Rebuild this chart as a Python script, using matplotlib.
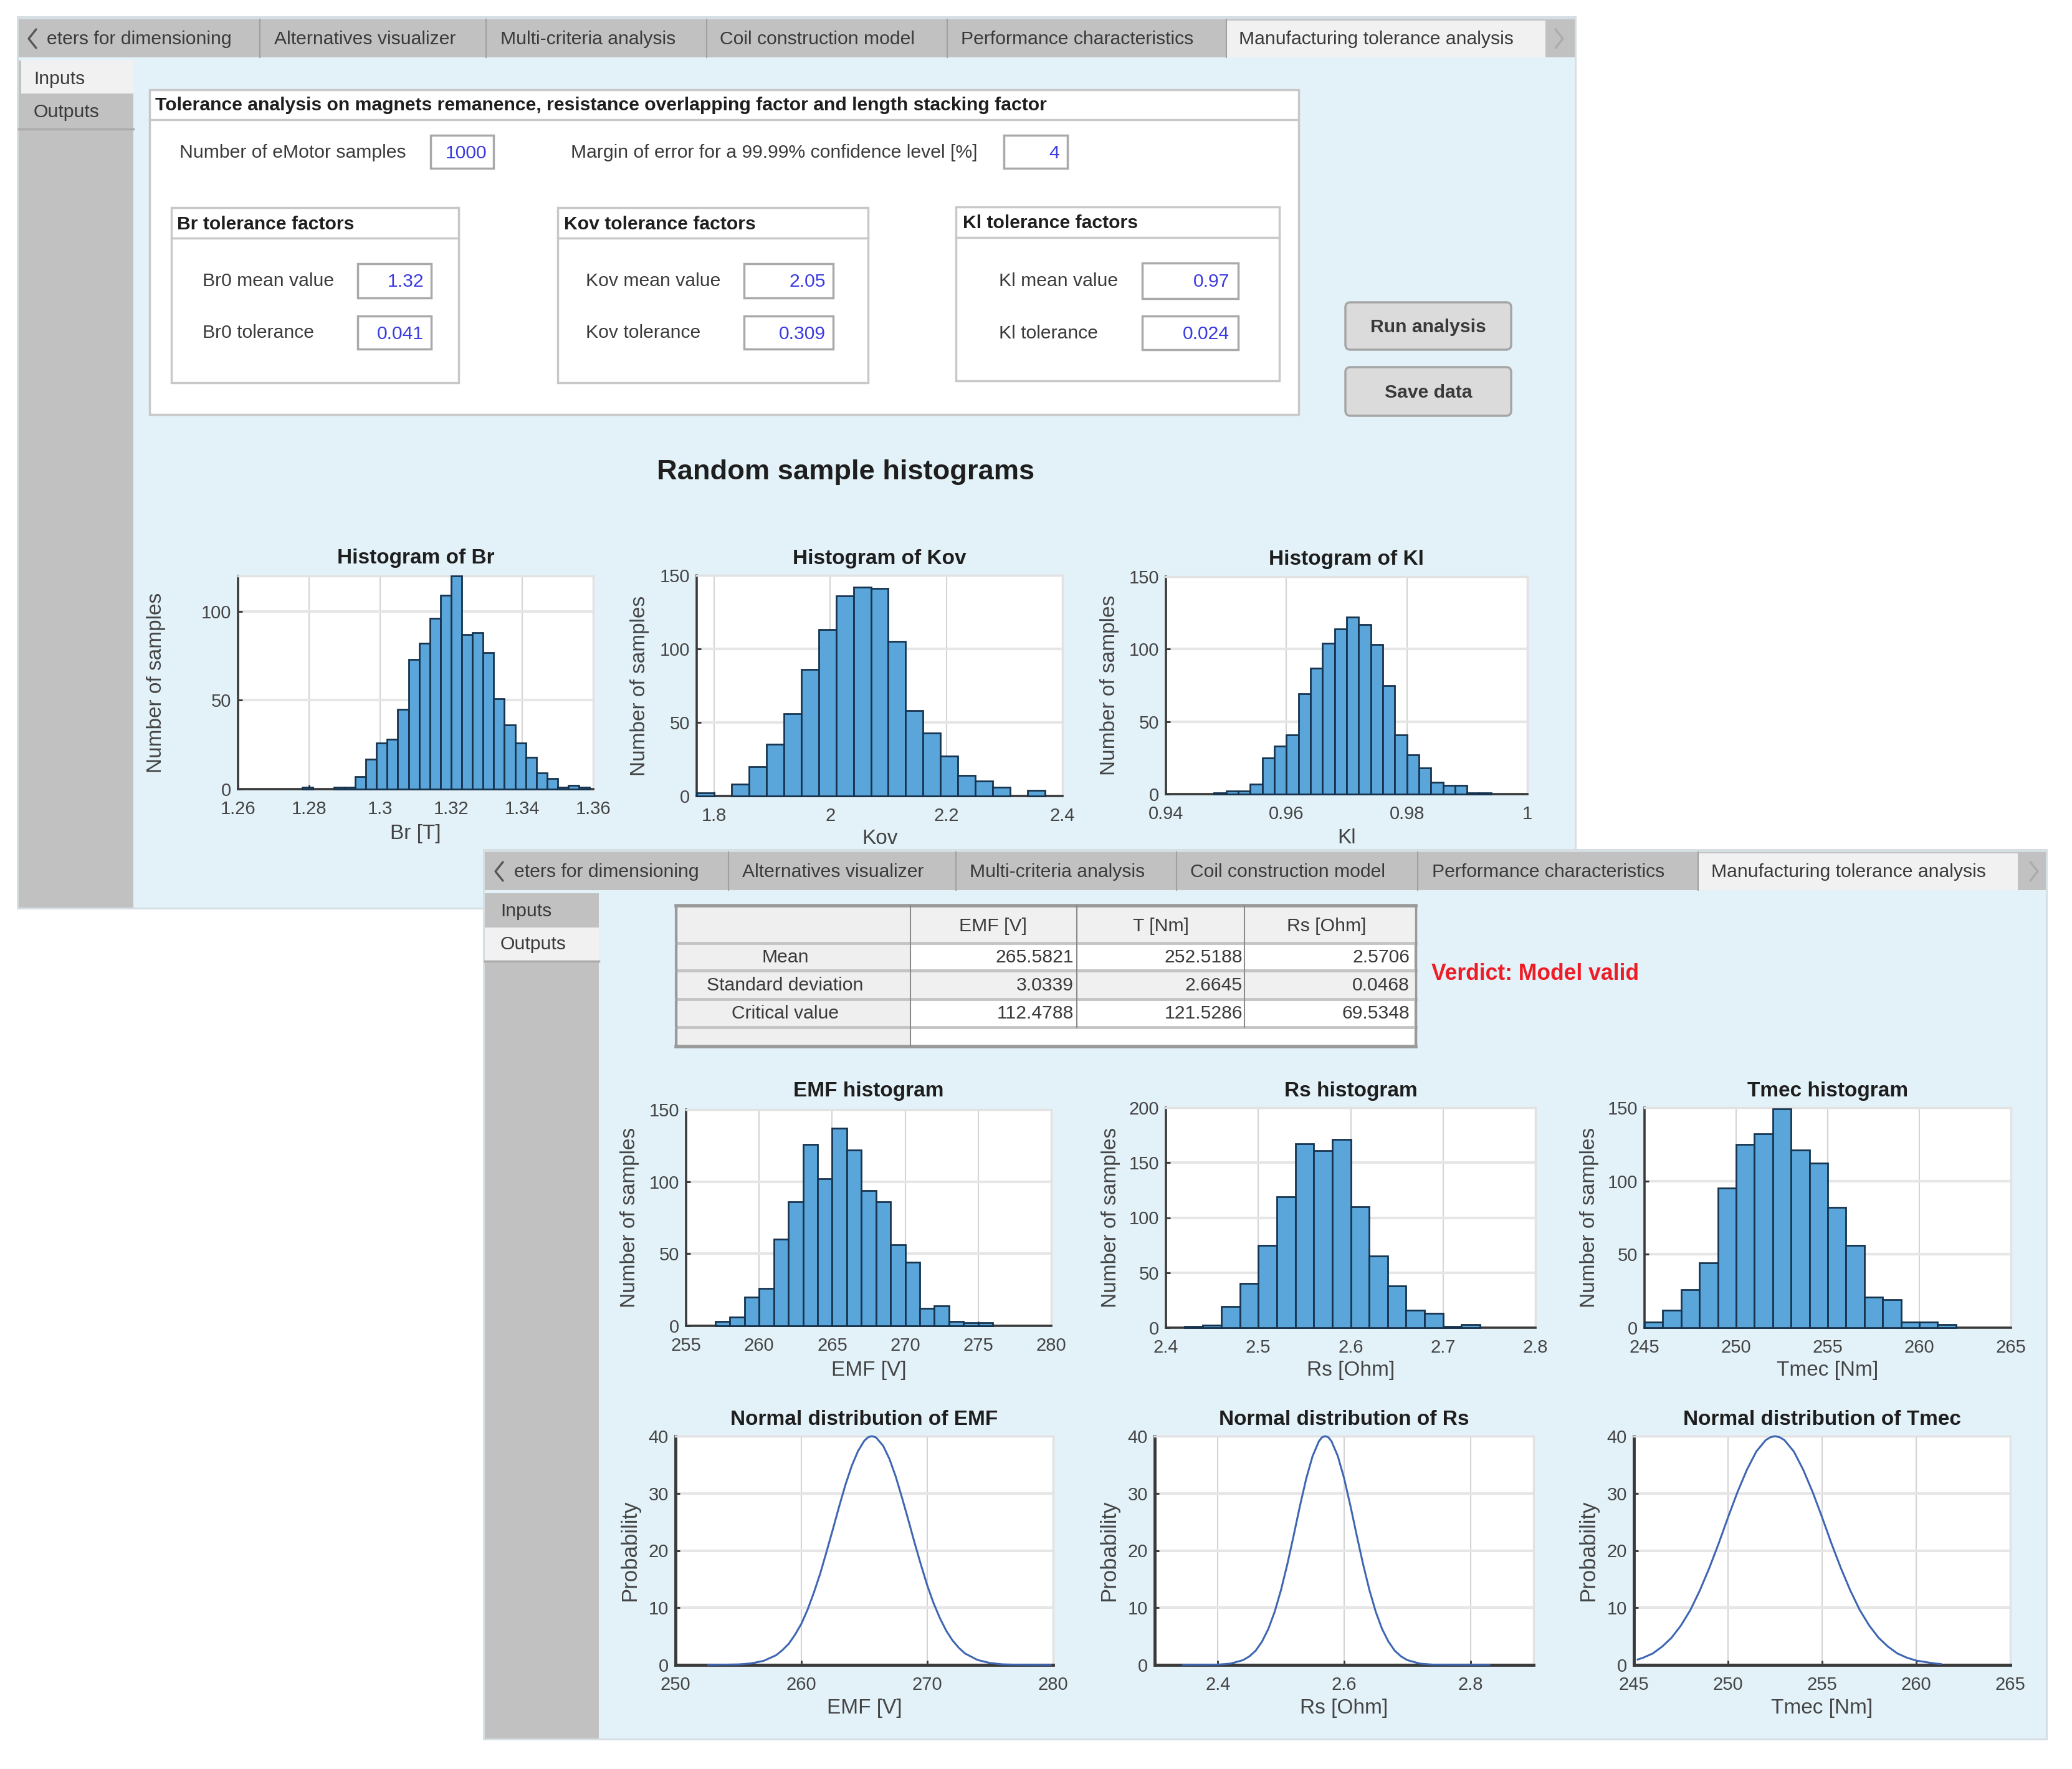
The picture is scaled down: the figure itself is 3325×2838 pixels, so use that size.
#!/usr/bin/env python3
# -*- coding: utf-8 -*-
import matplotlib
matplotlib.use("Agg")
import matplotlib.pyplot as plt
from matplotlib.patches import Rectangle, FancyBboxPatch

plt.rcParams['font.family'] = ['Liberation Sans', 'DejaVu Sans']

W, H = 3325, 2838

""" DATA """

# Input histograms (left bin edges and counts)
br_left = [1.278, 1.287, 1.290, 1.293, 1.296, 1.299, 1.302, 1.305, 1.308, 1.311, 1.314, 1.317, 1.320,
           1.323, 1.326, 1.329, 1.332, 1.335, 1.338, 1.341, 1.344, 1.347, 1.350, 1.353, 1.356]
br_counts = [1, 1, 1, 7, 17, 26, 28, 45, 73, 82, 96, 109, 120, 87, 88, 77, 51, 36, 26, 18, 9, 6, 1, 2, 1]
br_width = 0.003

kov_left = [1.77, 1.83, 1.86, 1.89, 1.92, 1.95, 1.98, 2.01, 2.04, 2.07, 2.10, 2.13, 2.16, 2.19, 2.22,
            2.25, 2.28, 2.34]
kov_counts = [2, 8, 20, 35, 56, 86, 113, 136, 142, 141, 105, 58, 43, 27, 14, 10, 6, 4]
kov_width = 0.03

kl_left = [0.948, 0.950, 0.952, 0.954, 0.956, 0.958, 0.960, 0.962, 0.964, 0.966, 0.968, 0.970, 0.972,
           0.974, 0.976, 0.978, 0.980, 0.982, 0.984, 0.986, 0.988, 0.990, 0.992]
kl_counts = [1, 2, 2, 7, 25, 33, 41, 69, 87, 104, 114, 122, 117, 103, 75, 41, 27, 18, 8, 6, 6, 1, 1]
kl_width = 0.002

# Output histograms
emf_left = [257, 258, 259, 260, 261, 262, 263, 264, 265, 266, 267, 268, 269, 270, 271, 272, 273, 274, 275]
emf_counts = [3, 6, 20, 26, 60, 86, 126, 102, 137, 122, 94, 86, 56, 44, 12, 14, 3, 2, 2]
emf_width = 1

rs_left = [2.42, 2.44, 2.46, 2.48, 2.50, 2.52, 2.54, 2.56, 2.58, 2.60, 2.62, 2.64, 2.66, 2.68, 2.70, 2.72]
rs_counts = [1, 2, 19, 40, 75, 119, 167, 161, 171, 110, 65, 38, 16, 13, 1, 3]
rs_width = 0.02

tmec_left = [245, 246, 247, 248, 249, 250, 251, 252, 253, 254, 255, 256, 257, 258, 259, 260, 261]
tmec_counts = [4, 12, 26, 44, 95, 125, 132, 149, 121, 112, 82, 56, 21, 19, 4, 4, 2]
tmec_width = 1

# Normal distribution curves
emf_x = [252.6, 255, 256, 257, 258, 258.5, 259, 259.5, 260, 260.5, 261, 261.5, 262, 262.5, 263, 263.5, 264,
         264.5, 265, 265.3, 265.6, 265.9, 266, 266.5, 267, 267.5, 268, 268.5, 269, 269.5, 270, 270.5, 271,
         271.5, 272, 272.5, 273, 274, 275, 276, 277, 279.8]
emf_y = [0, 0.09, 0.26, 0.71, 1.7, 2.6, 3.7, 5.3, 7.2, 9.7, 12.7, 16, 19.8, 23.7, 27.7, 31.5, 34.8,
         37.4, 39.2, 39.8, 40, 39.8, 39.6, 38.3, 36, 32.9, 29.2, 25.3, 21.3, 17.5, 13.9, 10.8, 8.2,
         6.0, 4.3, 3.0, 2.0, 0.86, 0.33, 0.1, 0.04, 0]

rs_x = [2.345, 2.40, 2.42, 2.44, 2.45, 2.46, 2.47, 2.48, 2.49, 2.50, 2.51, 2.52, 2.53, 2.54, 2.55, 2.56, 2.565,
        2.57, 2.575, 2.58, 2.59, 2.60, 2.61, 2.62, 2.63, 2.64, 2.65, 2.66, 2.67, 2.68, 2.69, 2.70, 2.72, 2.74, 2.83]
rs_y = [0, 0.05, 0.23, 0.84, 1.5, 2.5, 4.1, 6.3, 9.3, 13.1, 17.6, 22.6, 27.8, 32.6, 36.5, 39.1, 39.8,
        40, 39.8, 39.1, 36.5, 32.6, 27.8, 22.6, 17.6, 13.1, 9.3, 6.3, 4.1, 2.5, 1.5, 0.84, 0.23, 0.05, 0]

tmec_x = [245.2, 245.5, 246, 246.5, 247, 247.5, 248, 248.5, 249, 249.5, 250, 250.5, 251, 251.5, 252, 252.25,
          252.5, 252.75, 253, 253.5, 254, 254.5, 255, 255.5, 256, 256.5, 257, 257.5, 258, 258.5, 259, 259.5,
          260, 261, 261.3]
tmec_y = [0.94, 1.27, 2.0, 3.2, 4.75, 6.9, 9.6, 13, 16.9, 21.2, 25.8, 30.2, 34.1, 37.3, 39.3, 39.8,
          40, 39.8, 39.3, 37.3, 34.1, 30.2, 25.8, 21.2, 16.9, 13, 9.6, 6.9, 4.75, 3.2, 2.0, 1.27,
          0.76, 0.24, 0.17]

# Texts
tab_names = ["eters for dimensioning", "Alternatives visualizer", "Multi-criteria analysis",
             "Coil construction model", "Performance characteristics", "Manufacturing tolerance analysis"]
table_columns = ["EMF [V]", "T [Nm]", "Rs [Ohm]"]
table_rows = ["Mean", "Standard deviation", "Critical value"]
table_values = [["265.5821", "252.5188", "2.5706"],
                ["3.0339", "2.6645", "0.0468"],
                ["112.4788", "121.5286", "69.5348"]]

""" COLOURS """

PANEL = '#E3F2F9'
GREY = '#C1C1C1'
TAB_ON = '#F1F1F1'
TXT = '#3A3A3A'
TXT_DARK = '#1E1E1E'
BOXLINE = '#C8C8C8'
BLUE_TXT = '#3A3AE0'
BAR = '#5AA6DB'
BAR_EDGE = '#17344F'
LINE = '#3E66B2'


""" HELPERS """

fig = plt.figure(figsize=(W / 100, H / 100), dpi=100, facecolor='white')
base = fig.add_axes([0, 0, 1, 1])
base.set_xlim(0, W)
base.set_ylim(H, 0)
base.axis('off')


def rect(x0, y0, x1, y1, fc, ec='none', lw=0, z=1):
    base.add_patch(Rectangle((x0, y0), x1 - x0, y1 - y0, facecolor=fc, edgecolor=ec, linewidth=lw, zorder=z))


def txt(x, y, s, size=21.7, color=TXT, weight='normal', ha='left', z=5):
    base.text(x, y + 2, s, fontsize=size, color=color, fontweight=weight, ha=ha, va='center', zorder=z)


def chevron(x, y, sign, color):
    base.plot([x + sign * 6, x - sign * 6, x + sign * 6], [y - 15, y, y + 15], color=color, lw=2.4, zorder=5,
              solid_capstyle='round')


def window(x0, y0, x1, y1, seps, starts, tab_end, chev_l, chev_r, active_side, side_right, side_ys, side_x, side_txt):
    # Background, tab strip, side strip
    rect(x0 - 3, y0 - 5, x1 + 3, y1 + 3, '#D5DEE2', z=1)
    rect(x0, y0, x1, y1, PANEL, z=1)
    rect(x0, y0, x1, y0 + 61, GREY, z=2)
    rect(seps[-2], y0 + 2, tab_end, y0 + 61, TAB_ON, z=2)
    for s in seps[:-1]:
        base.plot([s, s], [y0, y0 + 61], color='#A0A0A0', lw=1.5, zorder=3)
    rect(x0, y0 + 66, side_right, y1, GREY, z=2)
    for name, sx in zip(tab_names, starts):
        txt(sx, y0 + 30, name)
    chevron(chev_l, y0 + 31, 1, '#555555')
    chevron(chev_r, y0 + 31, -1, '#ABABAB')
    # Side buttons
    top, mid, bottom = side_ys
    if active_side == 0:
        rect(x0 + 4, top, side_right, mid, TAB_ON, z=3)
    else:
        rect(x0, mid, side_right, bottom, TAB_ON, z=3)
    base.plot([x0, side_right], [bottom, bottom], color='#ABABAB', lw=2.5, zorder=3)
    txt(side_x, side_txt[0], "Inputs")
    txt(side_x, side_txt[1], "Outputs")


def field(x0, y0, x1, y1, value, xr):
    rect(x0, y0, x1, y1, 'white', ec='#A9A9A9', lw=2.5, z=3)
    txt(xr, (y0 + y1) / 2, value, color=BLUE_TXT, ha='right')


def group(x0, y0, x1, y1, sep, title, tx):
    rect(x0, y0, x1, y1, 'white', ec=BOXLINE, lw=2.5, z=2)
    base.plot([x0, x1], [sep, sep], color=BOXLINE, lw=2.5, zorder=3)
    txt(tx, (y0 + sep) / 2, title, weight='bold', color=TXT_DARK)


def button(x0, y0, x1, y1, label):
    base.add_patch(FancyBboxPatch((x0 + 8, y0 + 8), x1 - x0 - 16, y1 - y0 - 16, boxstyle='round,pad=8',
                                  facecolor='#DBDBDB', edgecolor='#A5A5A5', linewidth=2.5, zorder=3))
    txt((x0 + x1) / 2, (y0 + y1) / 2, label, weight='bold', ha='center')


def chart(box, xlim, ylim, xticks, xtick_labels, yticks, title, xlabel, ylabel,
          title_y, xlabel_y, ylabel_x, spine_w=2.6, ylabel_size=24):
    left, top, right, bottom = box
    ax = fig.add_axes([left / W, 1 - bottom / H, (right - left) / W, (bottom - top) / H], zorder=4)
    ax.set_facecolor('white')
    ax.set_xlim(xlim)
    ax.set_ylim(ylim)
    ax.set_xticks(xticks)
    ax.set_xticklabels(xtick_labels)
    ax.set_yticks(yticks)
    ax.tick_params(direction='in', length=5, width=2, color='#333333', labelcolor='#444444', labelsize=21, pad=8)
    ax.tick_params(axis='x', pad=13)
    ax.grid(axis='y', color='#E6E6E6', lw=3)
    ax.grid(axis='x', color='#D4D4D4', lw=1.5)
    ax.set_axisbelow(True)
    for side in ['top', 'right']:
        ax.spines[side].set_color('#E2E2E2')
        ax.spines[side].set_linewidth(2.5)
    for side in ['left', 'bottom']:
        ax.spines[side].set_color('#3A3A3A')
        ax.spines[side].set_linewidth(spine_w)
    h = bottom - top
    w = right - left
    ax.set_title(title, fontsize=24, fontweight='bold', color=TXT_DARK, y=(bottom - title_y) / h, va='center', pad=0)
    ax.set_xlabel(xlabel, fontsize=24, color='#444444', va='center')
    ax.xaxis.set_label_coords(0.5, (bottom - xlabel_y) / h)
    ax.set_ylabel(ylabel, fontsize=ylabel_size, color='#444444', va='center')
    ax.yaxis.set_label_coords((ylabel_x - left) / w, 0.5)
    return ax


def hist_bars(ax, lefts, counts, width):
    ax.bar(lefts, counts, width=width, align='edge', color=BAR, edgecolor=BAR_EDGE, linewidth=2, zorder=3,
           clip_on=False)


""" INPUTS WINDOW """

window(30, 31, 2527, 1456, [417, 780, 1134, 1520, 1968, 2480], [75, 440, 803, 1155, 1542, 1988], 2480,
       52, 2502, 0, 214, (97, 150, 207), 54, (125, 178))

rect(240, 144, 2084, 665, 'white', ec=BOXLINE, lw=2.5, z=2)
base.plot([240, 2084], [192, 192], color=BOXLINE, lw=2.5, zorder=3)
txt(249, 167, "Tolerance analysis on magnets remanence, resistance overlapping factor and length stacking factor",
    weight='bold', color=TXT_DARK)

txt(288, 243, "Number of eMotor samples")
field(691, 217, 792, 270, "1000", 781)
txt(916, 243, "Margin of error for a 99.99% confidence level [%]")
field(1611, 217, 1713, 270, "4", 1700)

group(275, 333, 736, 614, 382, "Br tolerance factors", 284)
txt(325, 449, "Br0 mean value")
txt(325, 532, "Br0 tolerance")
field(574, 423, 692, 478, "1.32", 680)
field(574, 507, 692, 560, "0.041", 680)

group(895, 333, 1393, 614, 382, "Kov tolerance factors", 905)
txt(940, 449, "Kov mean value")
txt(940, 532, "Kov tolerance")
field(1194, 423, 1337, 478, "2.05", 1325)
field(1194, 507, 1337, 560, "0.309", 1325)

group(1534, 332, 2053, 611, 381, "Kl tolerance factors", 1545)
txt(1603, 449, "Kl mean value")
txt(1603, 533, "Kl tolerance")
field(1833, 422, 1987, 479, "0.97", 1973)
field(1833, 507, 1987, 561, "0.024", 1973)

button(2159, 485, 2425, 561, "Run analysis")
button(2159, 589, 2425, 667, "Save data")

txt(1357, 755, "Random sample histograms", size=32.6, weight='bold', color=TXT_DARK, ha='center')

ax = chart((382, 924, 952, 1266), (1.26, 1.36), (0, 120), [1.26, 1.28, 1.3, 1.32, 1.34, 1.36],
           ['1.26', '1.28', '1.3', '1.32', '1.34', '1.36'], [0, 50, 100],
           "Histogram of Br", "Br [T]", "Number of samples", 896, 1338, 251)
hist_bars(ax, br_left, br_counts, br_width)

ax = chart((1118, 923, 1705, 1277), (1.77, 2.4), (0, 150), [1.8, 2, 2.2, 2.4],
           ['1.8', '2', '2.2', '2.4'], [0, 50, 100, 150],
           "Histogram of Kov", "Kov", "Number of samples", 896, 1346, 1026)
hist_bars(ax, kov_left, kov_counts, kov_width)

ax = chart((1871, 925, 2451, 1274), (0.94, 1), (0, 150), [0.94, 0.96, 0.98, 1],
           ['0.94', '0.96', '0.98', '1'], [0, 50, 100, 150],
           "Histogram of Kl", "Kl", "Number of samples", 897, 1344, 1781)
hist_bars(ax, kl_left, kl_counts, kl_width)

""" OUTPUTS WINDOW """

window(778, 1367, 3283, 2789, [1169, 1534, 1888, 2275, 2725, 3238], [825, 1191, 1556, 1910, 2298, 2746], 3238,
       801, 3264, 1, 961, (1432, 1488, 1542), 803, (1460, 1513))

# Table
col_x = [1085, 1461, 1728, 1997, 2272]
row_y = [1453, 1513, 1557, 1603, 1648, 1679]
rect(col_x[0], row_y[0], col_x[4], row_y[5], 'white', ec='#9A9A9A', lw=3, z=2)
rect(col_x[0], row_y[0], col_x[4], row_y[1], '#F0F0F0', z=2)
rect(col_x[0], row_y[0], col_x[1], row_y[5], '#EFEFEF', z=2)
rect(col_x[1], row_y[2], col_x[4], row_y[3], '#F0F0F0', z=2)
for y in row_y[1:5]:
    base.plot([col_x[0], col_x[4]], [y, y], color='#C4C4C4', lw=3.5, zorder=3)
base.plot([col_x[0], col_x[4]], [row_y[0], row_y[0]], color='#9A9A9A', lw=4, zorder=3)
base.plot([col_x[0], col_x[4]], [row_y[5], row_y[5]], color='#9A9A9A', lw=4, zorder=3)
base.plot([col_x[4], col_x[4]], [row_y[0], row_y[5]], color='#9A9A9A', lw=2.5, zorder=3)
base.plot([col_x[0], col_x[0]], [row_y[0], row_y[5]], color='#9A9A9A', lw=2.5, zorder=3)
base.plot([col_x[1], col_x[1]], [row_y[0], row_y[5]], color='#8A8A8A', lw=1.5, zorder=3)
for x in col_x[2:4]:
    base.plot([x, x], [row_y[0], row_y[4]], color='#8A8A8A', lw=1.5, zorder=3)
for x, name in zip([1593, 1863, 2129], table_columns):
    txt(x, 1484, name, ha='center')
for y, name, vals in zip([1534, 1579, 1624], table_rows, table_values):
    txt(1260, y, name, ha='center')
    for x, v in zip([1723, 1994, 2262], vals):
        txt(x, y, v, ha='right')

txt(2297, 1561, "Verdict: Model valid", size=25.6, weight='bold', color='#EE1C25')

# Histograms
ax = chart((1101, 1780, 1687, 2127), (255, 280), (0, 150), [255, 260, 265, 270, 275, 280],
           ['255', '260', '265', '270', '275', '280'], [0, 50, 100, 150],
           "EMF histogram", "EMF [V]", "Number of samples", 1751, 2199, 1011)
hist_bars(ax, emf_left, emf_counts, emf_width)

ax = chart((1871, 1777, 2464, 2130), (2.4, 2.8), (0, 200), [2.4, 2.5, 2.6, 2.7, 2.8],
           ['2.4', '2.5', '2.6', '2.7', '2.8'], [0, 50, 100, 150, 200],
           "Rs histogram", "Rs [Ohm]", "Number of samples", 1750, 2199, 1782)
hist_bars(ax, rs_left, rs_counts, rs_width)

ax = chart((2639, 1777, 3227, 2130), (245, 265), (0, 150), [245, 250, 255, 260, 265],
           ['245', '250', '255', '260', '265'], [0, 50, 100, 150],
           "Tmec histogram", "Tmec [Nm]", "Number of samples", 1751, 2198, 2550)
hist_bars(ax, tmec_left, tmec_counts, tmec_width)

# Normal distributions
ax = chart((1084, 2304, 1690, 2671), (250, 280), (0, 40), [250, 260, 270, 280],
           ['250', '260', '270', '280'], [0, 10, 20, 30, 40],
           "Normal distribution of EMF", "EMF [V]", "Probability", 2277, 2741, 1011, spine_w=3.5, ylabel_size=25)
ax.plot(emf_x, emf_y, color=LINE, lw=2.2, zorder=3, clip_on=False)

ax = chart((1853, 2304, 2461, 2671), (2.3, 2.9), (0, 40), [2.4, 2.6, 2.8],
           ['2.4', '2.6', '2.8'], [0, 10, 20, 30, 40],
           "Normal distribution of Rs", "Rs [Ohm]", "Probability", 2277, 2741, 1780, spine_w=3.5, ylabel_size=25)
ax.plot(rs_x, rs_y, color=LINE, lw=2.2, zorder=3, clip_on=False)

ax = chart((2622, 2304, 3226, 2671), (245, 265), (0, 40), [245, 250, 255, 260, 265],
           ['245', '250', '255', '260', '265'], [0, 10, 20, 30, 40],
           "Normal distribution of Tmec", "Tmec [Nm]", "Probability", 2277, 2741, 2549, spine_w=3.5, ylabel_size=25)
ax.plot(tmec_x, tmec_y, color=LINE, lw=2.2, zorder=3, clip_on=False)

fig.savefig('out.png', dpi=100, facecolor='white')
